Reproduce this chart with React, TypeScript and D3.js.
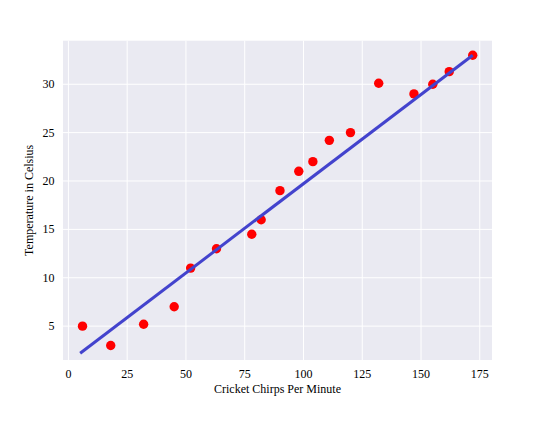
import { useEffect, useRef } from 'react';
import * as d3 from 'd3';

const chirps = [6, 18, 32, 45, 52, 63, 78, 82, 90, 98, 104, 111, 120, 132, 147, 155, 162, 172];
const temps = [5.0, 3.0, 5.2, 7.0, 11.0, 13.0, 14.5, 16.0, 19.0, 21.0, 22.0, 24.2, 25.0, 30.1, 29.0, 30.0, 31.3, 33.0];

// fitted line at its two ends
const fitX = [5, 172];
const fitY = [2.2, 33.0];

const xTicks = [0, 25, 50, 75, 100, 125, 150, 175];
const yTicks = [5, 10, 15, 20, 25, 30];

export default function App() {
  const svgRef = useRef<SVGSVGElement | null>(null);

  useEffect(() => {
    document.body.style.margin = '0';
    if (!svgRef.current) return;

    const width = 559;
    const height = 424;
    const plot = { left: 63, right: 492, top: 40.7, bottom: 360 };
    const font = '"Liberation Serif", "Times New Roman", serif';

    const svg = d3.select(svgRef.current);
    svg.selectAll('*').remove();
    svg.attr('width', width).attr('height', height);

    const x = d3.scaleLinear().domain([-2.3, 180.2]).range([plot.left, plot.right]);
    const y = d3.scaleLinear().domain([1.5, 34.5]).range([plot.bottom, plot.top]);

    svg.append('rect')
      .attr('width', width)
      .attr('height', height)
      .attr('fill', 'white');

    svg.append('rect')
      .attr('x', plot.left)
      .attr('y', plot.top)
      .attr('width', plot.right - plot.left)
      .attr('height', plot.bottom - plot.top)
      .attr('fill', '#eaeaf2');

    // grid
    svg.append('g')
      .selectAll('line')
      .data(xTicks)
      .join('line')
      .attr('x1', d => x(d))
      .attr('x2', d => x(d))
      .attr('y1', plot.top)
      .attr('y2', plot.bottom)
      .attr('stroke', 'white')
      .attr('stroke-width', 1);

    svg.append('g')
      .selectAll('line')
      .data(yTicks)
      .join('line')
      .attr('x1', plot.left)
      .attr('x2', plot.right)
      .attr('y1', d => y(d))
      .attr('y2', d => y(d))
      .attr('stroke', 'white')
      .attr('stroke-width', 1);

    // tick labels
    svg.append('g')
      .selectAll('text')
      .data(xTicks)
      .join('text')
      .attr('x', d => x(d))
      .attr('y', 378)
      .attr('text-anchor', 'middle')
      .attr('font-family', font)
      .attr('font-size', 12)
      .attr('fill', '#000')
      .text(d => d);

    svg.append('g')
      .selectAll('text')
      .data(yTicks)
      .join('text')
      .attr('x', 54.5)
      .attr('y', d => y(d) + 4)
      .attr('text-anchor', 'end')
      .attr('font-family', font)
      .attr('font-size', 12)
      .attr('fill', '#000')
      .text(d => d);

    // axis titles
    svg.append('text')
      .attr('x', (plot.left + plot.right) / 2)
      .attr('y', 393)
      .attr('text-anchor', 'middle')
      .attr('font-family', font)
      .attr('font-size', 12)
      .attr('fill', '#000')
      .text('Cricket Chirps Per Minute');

    svg.append('text')
      .attr('transform', `translate(33,${(plot.top + plot.bottom) / 2}) rotate(-90)`)
      .attr('text-anchor', 'middle')
      .attr('font-family', font)
      .attr('font-size', 12)
      .attr('fill', '#000')
      .text('Temperature in Celsius');

    // points
    svg.append('g')
      .selectAll('circle')
      .data(chirps.map((c, i) => [c, temps[i]]))
      .join('circle')
      .attr('cx', d => x(d[0]))
      .attr('cy', d => y(d[1]))
      .attr('r', 4.7)
      .attr('fill', 'red');

    // fitted line
    const line = d3.line<number>()
      .x(d => x(d))
      .y((d, i) => y(fitY[i]));

    svg.append('path')
      .attr('d', line(fitX))
      .attr('fill', 'none')
      .attr('stroke', '#4343cd')
      .attr('stroke-width', 3);
  }, []);

  return <svg ref={svgRef} style={{ display: 'block' }}></svg>;
}
